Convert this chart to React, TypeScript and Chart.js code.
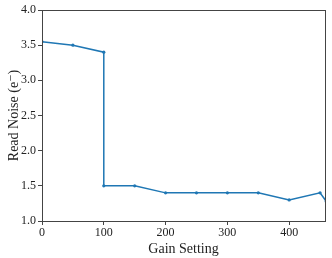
import React, { useEffect, useRef } from "react";
import { Chart, registerables } from "chart.js";

Chart.register(...registerables);

const gainSetting = [0, 50, 100, 100, 150, 200, 250, 300, 350, 400, 450, 460];
const readNoise = [3.55, 3.5, 3.4, 1.5, 1.5, 1.4, 1.4, 1.4, 1.4, 1.3, 1.4, 1.28];
const xTicks = [0, 100, 200, 300, 400];
const yTicks = [1.0, 1.5, 2.0, 2.5, 3.0, 3.5, 4.0];

const FONT = "'Liberation Serif', 'DejaVu Serif', serif";

const framePlugin = {
  id: "frame",
  afterDatasetsDraw(chart: any) {
    const { ctx, chartArea } = chart;
    ctx.save();
    ctx.strokeStyle = "#444";
    ctx.lineWidth = 1;
    ctx.strokeRect(
      Math.round(chartArea.left) + 0.5,
      Math.round(chartArea.top) + 0.5,
      Math.round(chartArea.right - chartArea.left),
      Math.round(chartArea.bottom - chartArea.top)
    );
    ctx.restore();
  },
};

export default function App() {
  const ref = useRef<HTMLCanvasElement | null>(null);
  useEffect(() => {
    if (!ref.current) return;
    const chart = new Chart(ref.current, {
      type: "line",
      data: {
        datasets: [
          {
            data: gainSetting.map((x, i) => ({ x, y: readNoise[i] })),
            borderColor: "#1f77b4",
            backgroundColor: "#1f77b4",
            borderWidth: 1.5,
            pointRadius: 1.6,
            pointBorderWidth: 0,
            fill: false,
            tension: 0,
          },
        ],
      },
      plugins: [framePlugin],
      options: {
        animation: false,
        responsive: false,
        maintainAspectRatio: false,
        layout: { padding: { top: 10, right: 7, left: 0, bottom: 0 } },
        plugins: { legend: { display: false }, tooltip: { enabled: false } },
        scales: {
          x: {
            type: "linear",
            min: 0,
            max: 458,
            afterBuildTicks: (s: any) => {
              s.ticks = xTicks.map((v) => ({ value: v }));
            },
            afterFit: (s: any) => {
              s.height = 37;
            },
            grid: { drawOnChartArea: false, tickLength: 4, color: "#444" },
            border: { display: true, color: "#444" },
            ticks: {
              font: { family: FONT, size: 12 },
              color: "#222",
              padding: 1,
              maxRotation: 0,
            },
            title: {
              display: true,
              text: "Gain Setting",
              font: { family: FONT, size: 14 },
              color: "#222",
              padding: { top: -3, bottom: 0 },
            },
          },
          y: {
            type: "linear",
            min: 1,
            max: 4,
            afterBuildTicks: (s: any) => {
              s.ticks = yTicks.map((v) => ({ value: v }));
            },
            afterFit: (s: any) => {
              s.width = 42;
            },
            grid: { drawOnChartArea: false, tickLength: 4, color: "#444" },
            border: { display: true, color: "#444" },
            ticks: {
              font: { family: FONT, size: 12 },
              color: "#222",
              padding: 2,
              callback: (v: any) => Number(v).toFixed(1),
            },
            title: {
              display: true,
              text: "Read Noise (e\u207B)",
              font: { family: FONT, size: 14 },
              color: "#222",
              padding: { top: 6, bottom: 0 },
            },
          },
        },
      },
    });
    return () => chart.destroy();
  }, []);
  return (
    <div style={{ position: "fixed", left: 0, top: 0, width: 332, height: 258, background: "#fff" }}>
      <canvas ref={ref} width={332} height={258} style={{ width: 332, height: 258 }} />
    </div>
  );
}
